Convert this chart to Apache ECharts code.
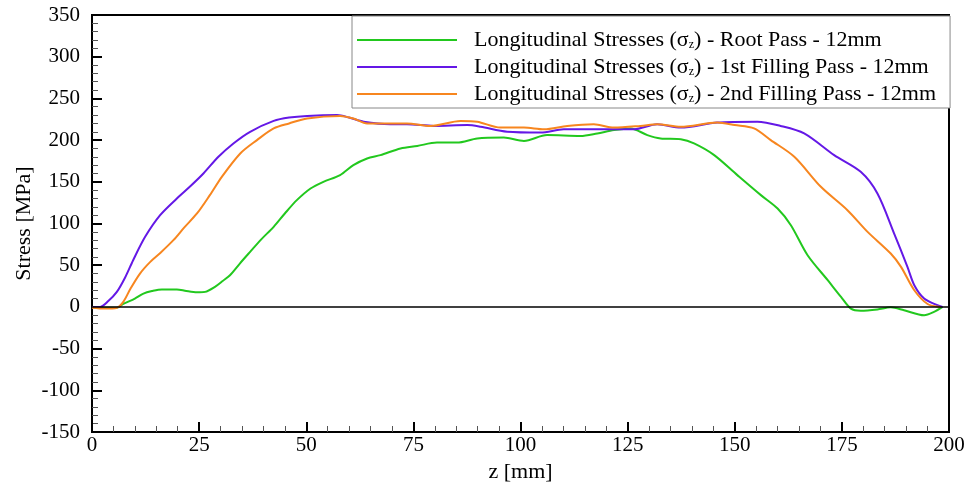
<!DOCTYPE html>
<html>
<head>
<meta charset="utf-8">
<script src="https://cdn.jsdelivr.net/npm/echarts@6/dist/echarts.min.js"></script>
<style>
  html, body { margin: 0; padding: 0; background: #fff; }
  #main { width: 978px; height: 482px; }
</style>
</head>
<body>
<div id="main"></div>
<script>
// root pass (green)
var rootZ = [0, 3, 5.8, 7.3, 10, 12, 14, 16.3, 19.8, 22, 24.5, 26.4, 28.7, 30.5, 32.2, 34.5, 36.9, 39.5, 42.4, 45, 47.8, 51, 54, 57.9, 61, 64.2, 67.3, 72, 75.9, 80.5, 85.2, 89.9, 96.1, 100.8, 106.2, 114, 117.9, 121.8, 125.7, 129.6, 132.7, 137.4, 140.5, 145.2, 150.6, 156.1, 160, 163.1, 167, 171.7, 174.8, 177.1, 179.4, 183.3, 186.4, 189.5, 194.2, 196.5, 198.5];
var rootS = [0, -1, -1, 3.5, 10, 16, 19, 21, 21, 19, 17.5, 18, 24, 31, 38, 52, 66, 81, 96, 112, 128, 142, 150, 158, 170, 178, 182, 190, 193, 197, 197, 202, 203, 199, 206, 205, 208, 212, 214, 206, 202, 201, 196, 182, 158, 134, 118, 98, 62, 32, 12, -2, -4.5, -3, -0.5, -4, -10, -6, 0];

// 1st filling pass (purple)
var fill1Z = [0, 1.9, 3.8, 5.8, 7.7, 9.6, 12.4, 15.9, 19.8, 23, 26, 29.5, 33, 36.9, 42.4, 46, 50.2, 57.2, 60, 63.4, 69.6, 73.5, 79.8, 87.6, 90.7, 96.9, 104.7, 110.1, 117.1, 126.5, 131.9, 137.4, 145.9, 155.3, 160.7, 166.2, 173.2, 179.4, 183.3, 187.2, 190.3, 191.9, 194.2, 197.3, 198.5];
var fill1S = [0, 0, 7, 18, 35, 56, 84, 110, 130, 145, 160, 180, 196, 210, 223, 227, 229, 230, 227, 222, 219, 219, 217, 218, 216, 210, 209, 213, 213, 213, 219, 215, 221, 222, 217, 208, 182, 162, 136, 88, 48, 26, 10, 2, 0];

// 2nd filling pass (orange)
var fill2Z = [0, 3, 5.8, 7.3, 9, 11.2, 13.6, 16, 19, 21.5, 24.5, 27.5, 30.3, 34.6, 38.5, 42.4, 46, 50.2, 57.9, 61, 64.2, 69.6, 73.5, 79, 86, 89.9, 95.3, 100.8, 105.5, 110.9, 117.1, 121.8, 128, 131.9, 137.4, 145.9, 150, 154.5, 158.4, 163.9, 170.1, 176.3, 181, 186.4, 188.8, 191.9, 195, 198];
var fill2S = [-1, -2, -1, 6, 22, 40, 54, 65, 80, 95, 112, 134, 156, 184, 200, 214, 220, 226, 229, 226, 220, 220, 220, 217, 223, 222, 215, 215, 213, 217, 219, 215, 217, 219, 216, 221, 218, 214, 200, 180, 144, 116, 90, 64, 48, 20, 3.5, 0];

var seriesNames = [
  'Longitudinal Stresses (σz) - Root Pass - 12mm',
  'Longitudinal Stresses (σz) - 1st Filling Pass - 12mm',
  'Longitudinal Stresses (σz) - 2nd Filling Pass - 12mm'
];
var colors = ['#22c81e', '#6418e6', '#f7861f'];

function zip(xs, ys) {
  return xs.map(function (x, i) { return [x, ys[i]]; });
}

var font = "'Liberation Serif', 'Times New Roman', serif";
var chart = echarts.init(document.getElementById('main'));

function lineSeries(name, data, color) {
  return {
    name: name,
    type: 'line',
    data: data,
    smooth: 0.3,
    showSymbol: false,
    symbol: 'none',
    lineStyle: { color: color, width: 2 },
    itemStyle: { color: color }
  };
}

var s1 = lineSeries(seriesNames[0], zip(rootZ, rootS), colors[0]);
s1.markLine = {
  silent: true,
  symbol: 'none',
  label: { show: false },
  lineStyle: { color: '#000', width: 1.5, type: 'solid' },
  data: [{ yAxis: 0 }]
};

chart.setOption({
  animation: false,
  color: colors,
  textStyle: { fontFamily: font, color: '#000' },
  grid: {
    left: 92, right: 29, top: 15, bottom: 50,
    outerBoundsMode: 'none',
    show: true, borderColor: '#000', borderWidth: 2, backgroundColor: 'transparent'
  },
  legend: {
    orient: 'vertical',
    left: 352, top: 16,
    padding: [13, 14, 3, 5],
    itemGap: 5,
    itemWidth: 100, itemHeight: 2,
    icon: 'rect',
    backgroundColor: '#fff',
    borderColor: '#888', borderWidth: 1,
    data: seriesNames,
    formatter: function (name) {
      return name.replace('σz', '{s|σ}{sub|z}');
    },
    textStyle: {
      fontFamily: font, fontSize: 22, color: '#000',
      padding: [0, 0, 0, 12],
      rich: {
        s: { fontFamily: font, fontSize: 22, color: '#000' },
        sub: { fontFamily: font, fontSize: 12, color: '#000', verticalAlign: 'bottom', padding: [9, 0, 0, 0] }
      }
    }
  },
  xAxis: {
    type: 'value',
    min: 0, max: 200, interval: 25,
    name: 'z [mm]',
    nameLocation: 'middle',
    nameGap: 24,
    nameTextStyle: { fontFamily: font, fontSize: 22, color: '#000' },
    axisLine: { show: true, onZero: false, lineStyle: { color: '#000', width: 2 } },
    axisTick: { show: true, inside: true, length: 10, lineStyle: { color: '#000', width: 2 } },
    minorTick: { show: true, splitNumber: 5, length: 6, lineStyle: { color: '#555', width: 1 } },
    axisLabel: { fontFamily: font, fontSize: 21, color: '#000', margin: 3 },
    splitLine: { show: false }
  },
  yAxis: {
    type: 'value',
    min: -150, max: 350, interval: 50,
    name: 'Stress [MPa]',
    nameLocation: 'middle',
    nameGap: 57,
    nameMoveOverlap: false,
    nameTextStyle: { fontFamily: font, fontSize: 22, color: '#000' },
    axisLine: { show: true, onZero: false, lineStyle: { color: '#000', width: 2 } },
    axisTick: { show: true, inside: true, length: 10, lineStyle: { color: '#000', width: 2 } },
    minorTick: { show: true, splitNumber: 5, length: 6, lineStyle: { color: '#555', width: 1 } },
    axisLabel: { fontFamily: font, fontSize: 21, color: '#000', margin: 12 },
    splitLine: { show: false }
  },
  series: [
    s1,
    lineSeries(seriesNames[1], zip(fill1Z, fill1S), colors[1]),
    lineSeries(seriesNames[2], zip(fill2Z, fill2S), colors[2])
  ]
});
</script>
</body>
</html>
